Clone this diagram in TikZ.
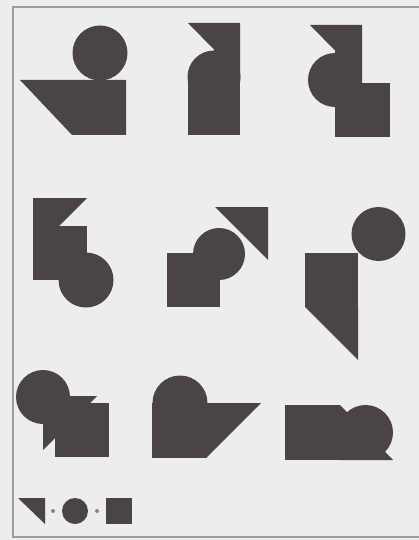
\documentclass[tikz,border=0pt]{standalone}
\usepackage{tikz}
\definecolor{paper}{HTML}{EDEDEC}
\definecolor{ink}{HTML}{4A4347}
\definecolor{framec}{HTML}{9C9C9C}
\definecolor{dotc}{HTML}{8A8487}
\tikzset{
  shp/.style={fill=ink, draw=none},
  frm/.style={draw=framec, line width=1.3pt},
  dotmark/.style={fill=dotc, draw=none}
}
\begin{document}
\begin{tikzpicture}[x=1pt,y=-1pt]
\useasboundingbox (0,0) rectangle (419,540);
\fill[paper] (0,0) rectangle (419,540);
\draw[frm] (430,7) -- (13,7) -- (13,537) -- (430,537);
% Figure 1
\fill[shp] (100,53) circle (27.5);
\fill[shp] (20,80) -- (126,80) -- (126,135) -- (72,135) -- cycle;
% Figure 2
\fill[shp] (188,23) -- (240,23) -- (240,76) -- cycle;
\fill[shp] (214,77) circle (26.5);
\fill[shp] (214,49) -- (240,75) -- (240,82) -- (214,82) -- cycle;
\fill[shp] (188,81) rectangle (240,135);
% Figure 3
\fill[shp] (310,25) -- (362,25) -- (362,78) -- cycle;
\fill[shp] (335,80) circle (27);
\fill[shp] (335,50) -- (362,77) -- (362,84) -- (335,84) -- cycle;
\fill[shp] (335,83) rectangle (390,137);
% Figure 4
\fill[shp] (33,198) -- (87,198) -- (33,252) -- cycle;
\fill[shp] (33,226) rectangle (87,280);
\fill[shp] (86,280) circle (27.5);
% Figure 5
\fill[shp] (167,253) rectangle (220,307);
\fill[shp] (219,254) circle (26);
\fill[shp] (215,207) -- (268,207) -- (268,260) -- cycle;
% Figure 6
\fill[shp] (305,253) rectangle (358,307);
\fill[shp] (305,307) -- (358,307) -- (358,360) -- cycle;
\fill[shp] (378.5,234) circle (27);
% Figure 7
\fill[shp] (43,397) circle (27);
\fill[shp] (43,396) -- (97,396) -- (43,450) -- cycle;
\fill[shp] (55,403) rectangle (109,457);
% Figure 8
\fill[shp] (180,403) circle (27.5);
\fill[shp] (152,403) rectangle (207,458);
\fill[shp] (207,403) -- (261,403) -- (207,457) -- cycle;
% Figure 9
\fill[shp] (285,405) rectangle (340,460);
\fill[shp] (365.5,432.5) circle (27.5);
\fill[shp] (340,405) -- (340,460) -- (393,460) -- cycle;
% Legend
\fill[shp] (18,498) -- (45,498) -- (45,524) -- cycle;
\fill[dotmark] (53,511) circle (2);
\fill[shp] (75,511) circle (13);
\fill[dotmark] (97,511) circle (2);
\fill[shp] (106,498) rectangle (132,524);
\end{tikzpicture}
\end{document}
